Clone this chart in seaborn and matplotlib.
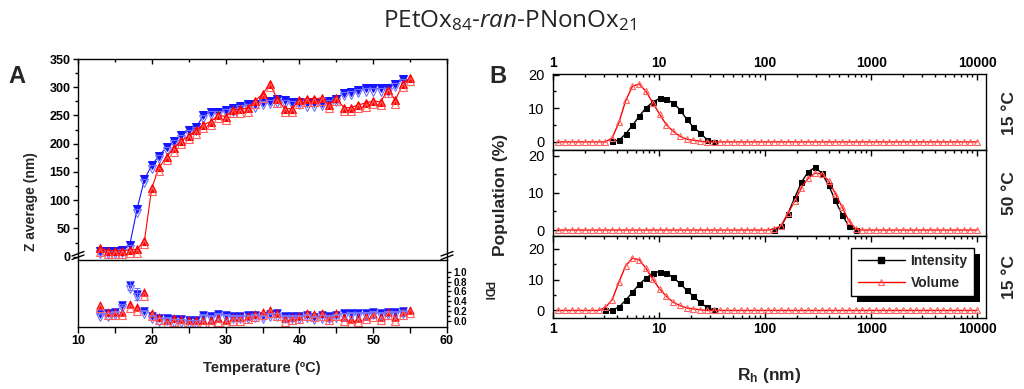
import numpy as np
import pandas as pd
import matplotlib
matplotlib.use('Agg')
import matplotlib.pyplot as plt
import matplotlib.transforms as mtransforms
from matplotlib.lines import Line2D
from matplotlib.patches import Rectangle
from matplotlib.ticker import MultipleLocator, LogLocator, NullFormatter, FixedLocator
import seaborn as sns

sns.set_style("ticks")
plt.rcParams['font.family'] = ['Liberation Sans', 'DejaVu Sans']
plt.rcParams['mathtext.fontset'] = 'custom'
plt.rcParams['mathtext.rm'] = 'Open Sans'
plt.rcParams['mathtext.it'] = 'Open Sans:italic'
plt.rcParams['mathtext.bf'] = 'Liberation Sans:bold'
plt.rcParams['axes.edgecolor'] = 'black'
plt.rcParams['axes.linewidth'] = 1.0
plt.rcParams['xtick.color'] = 'black'
plt.rcParams['ytick.color'] = 'black'

# ---------------- panel A data (Z average / PDI vs temperature) ----------------
temp_blue = list(range(13, 55))
temp_red = list(range(13, 56))

z_blue = [11, 11, 11, 12, 20, 84, 137, 162, 179, 194, 205, 215, 224, 229, 250,
          257, 257, 260, 263, 267, 270, 270, 274, 276, 279, 277, 274, 274, 272,
          272, 273, 276, 280, 290, 292, 296, 298, 298, 298, 298, 306, 314]
z_red = [15, 11, 11, 11, 12, 13, 28, 122, 158, 177, 192, 205, 214, 224, 234,
         239, 251, 248, 260, 261, 263, 276, 288, 306, 279, 262, 262, 277, 280,
         280, 281, 269, 281, 264, 264, 269, 272, 276, 274, 296, 277, 306, 317]

pdi_blue = [0.14, 0.15, 0.18, 0.32, 0.72, 0.55, 0.20, 0.10, 0.05, 0.06, 0.03,
            0.03, 0.01, 0.01, 0.12, 0.10, 0.14, 0.12, 0.10, 0.10, 0.11, 0.12,
            0.10, 0.14, 0.15, 0.10, 0.10, 0.10, 0.12, 0.08, 0.11, 0.10, 0.12,
            0.15, 0.16, 0.16, 0.16, 0.18, 0.16, 0.18, 0.18, 0.20]
pdi_blue_err = [0, 0, 0, 0.03, 0.10, 0.12, 0, 0, 0, 0, 0, 0, 0, 0, 0, 0, 0, 0,
                0, 0, 0, 0, 0, 0, 0, 0, 0, 0, 0, 0, 0, 0, 0, 0, 0, 0, 0, 0, 0,
                0, 0, 0]
pdi_red = [0.32, 0.18, 0.18, 0.18, 0.34, 0.27, 0.58, 0.16, 0.08, 0.01, 0.05,
           0.03, 0.01, 0.01, 0.01, 0.01, 0.05, 0.01, 0.07, 0.07, 0.10, 0.14,
           0.18, 0.22, 0.16, 0.05, 0.08, 0.10, 0.16, 0.14, 0.16, 0.08, 0.16,
           0.07, 0.03, 0.05, 0.10, 0.14, 0.08, 0.18, 0.07, 0.18, 0.22]
pdi_ticks = [0.0, 0.2, 0.4, 0.6, 0.8, 1.0]

# ---------------- panel B data (size distributions) ----------------
size_nm = [1.117, 1.294, 1.499, 1.736, 2.01, 2.328, 2.696, 3.122, 3.615,
           4.187, 4.849, 5.615, 6.503, 7.531, 8.721, 10.1, 11.7, 13.54,
           15.69, 18.17, 21.04, 24.36, 28.21, 32.67, 37.84, 43.82, 50.75,
           58.77, 68.06, 78.82, 91.28, 105.7, 122.4, 141.8, 164.2, 190.1,
           220.2, 255, 295.3, 342, 396.1, 458.7, 531.2, 615.1, 712.4,
           825, 955.4, 1106, 1281, 1484, 1718, 1990, 2305, 2669,
           3091, 3580, 4145, 4801, 5560, 6439, 7456, 8635, 10000]
N = None

vol_15_top = [0, 0, 0, 0, 0, 0, 0, 0, 1.2,
              5.8, 12.3, 16.5, 17.2, 15.0, 11.6, 8.3, 5.1, 3.2,
              1.7, 0.8, 0.5, 0.2, 0, 0, 0, 0, 0,
              0, 0, 0, 0, 0, 0, 0, 0, 0,
              0, 0, 0, 0, 0, 0, 0, 0, 0,
              0, 0, 0, 0, 0, 0, 0, 0, 0,
              0, 0, 0, 0, 0, 0, 0, 0, 0]
int_15_top = [N, N, N, N, N, N, N, N, 0.2,
              0.5, 2.4, 4.9, 7.6, 10.1, 11.8, 12.9, 12.6, 11.6,
              9.6, 6.8, 4.4, 2.7, 0.7, 0, N, N, N,
              N, N, N, N, N, N, N, N, N,
              N, N, N, N, N, N, N, N, N,
              N, N, N, N, N, N, N, N, N,
              N, N, N, N, N, N, N, N, N]

vol_50 = [0, 0, 0, 0, 0, 0, 0, 0, 0,
          0, 0, 0, 0, 0, 0, 0, 0, 0,
          0, 0, 0, 0, 0, 0, 0, 0, 0,
          0, 0, 0, 0, 0, 0.3, 1.2, 4.5, 7.8,
          11.4, 13.9, 15.3, 15.1, 13.3, 9.8, 6.2, 2.5, 0.3,
          0, 0, 0, 0, 0, 0, 0, 0, 0,
          0, 0, 0, 0, 0, 0, 0, 0, 0]
int_50 = [N, N, N, N, N, N, N, N, N,
          N, N, N, N, N, N, N, N, N,
          N, N, N, N, N, N, N, N, N,
          N, N, N, N, N, 0, 1.0, 4.4, 8.7,
          12.8, 15.7, 16.8, 15.3, 12.1, 8.0, 4.1, 1.1, 0,
          N, N, N, N, N, N, N, N, N,
          N, N, N, N, N, N, N, N, N]

vol_15_bot = [0, 0, 0, 0, 0, 0, 0, 1.0, 3.5,
              9.2, 14.5, 16.9, 16.4, 13.6, 10.1, 7.0, 4.6, 2.7,
              1.6, 0.8, 0.5, 0.2, 0, 0, 0, 0, 0,
              0, 0, 0, 0, 0, 0, 0, 0, 0,
              0, 0, 0, 0, 0, 0, 0, 0, 0,
              0, 0, 0, 0, 0, 0, 0, 0, 0,
              0, 0, 0, 0, 0, 0, 0, 0, 0]
int_15_bot = [N, N, N, N, N, N, N, 0, 0.1,
              1.1, 3.3, 5.9, 8.5, 10.4, 12.1, 12.6, 12.1, 10.7,
              8.8, 6.6, 4.6, 2.6, 1.0, 0.2, N, N, N,
              N, N, N, N, N, N, N, N, N,
              N, N, N, N, N, N, N, N, N,
              N, N, N, N, N, N, N, N, N,
              N, N, N, N, N, N, N, N, N]

panel_temps = ["15 °C", "50 °C", "15 °C"]
size_ticks = [1, 10, 100, 1000, 10000]

BLUE = "#1414ff"
BLUE_L = "#7070ff"
RED = "#ff0000"
RED_L = "#ff6060"

fig = plt.figure(figsize=(10.24, 3.89), dpi=100)


def fx(px):
    return px / 1024


def fy(py):
    return 1 - py / 389


# ---------------- panel A ----------------
ax_u = fig.add_axes([fx(78), fy(259), (447 - 78) / 1024, (259 - 59) / 389])
ax_l = fig.add_axes([fx(78), fy(327), (447 - 78) / 1024, (327 - 260) / 389])

shift = mtransforms.offset_copy(ax_u.transData, fig=fig, y=-3.5, units='dots')
sns.lineplot(x=temp_blue, y=z_blue, ax=ax_u, color=BLUE, lw=0.8, marker='v',
             markersize=5.5, markeredgecolor=BLUE, estimator=None, sort=False)
ax_u.plot(temp_blue, z_blue, ls='none', marker='v', ms=5.5, mfc='none',
          mec=BLUE_L, mew=0.8, transform=shift)
sns.lineplot(x=temp_red, y=z_red, ax=ax_u, color=RED, lw=0.8, marker='^',
             markersize=5.5, markeredgecolor=RED, estimator=None, sort=False)
ax_u.plot(temp_red, z_red, ls='none', marker='^', ms=5.5, mfc='none',
          mec=RED_L, mew=0.8, transform=shift)

ax_u.set_xlim(10, 60)
ax_u.set_ylim(-4, 350)
ax_u.spines['bottom'].set_visible(False)
ax_u.xaxis.set_major_locator(MultipleLocator(10))
ax_u.xaxis.set_minor_locator(MultipleLocator(5))
ax_u.yaxis.set_major_locator(MultipleLocator(50))
ax_u.yaxis.set_minor_locator(MultipleLocator(25))
ax_u.tick_params(axis='x', which='both', bottom=False, top=True,
                 labelbottom=False, direction='in')
ax_u.tick_params(axis='x', which='major', length=3.5, width=1)
ax_u.tick_params(axis='x', which='minor', length=2.5, width=1)
ax_u.tick_params(axis='y', which='both', left=True, right=False,
                 direction='out', labelsize=9, pad=2)
ax_u.tick_params(axis='y', which='major', length=3.5, width=1)
ax_u.tick_params(axis='y', which='minor', length=2, width=1)
for t in ax_u.get_yticklabels():
    t.set_fontweight('bold')
ax_u.set_xlabel('')
ax_u.set_ylabel('')

shift_l = mtransforms.offset_copy(ax_l.transData, fig=fig, y=-3.5, units='dots')
ax_l.errorbar(temp_blue, pdi_blue, yerr=pdi_blue_err, fmt='none',
              ecolor=BLUE_L, elinewidth=0.8, capsize=2.5, capthick=0.8)
sns.scatterplot(x=temp_blue, y=pdi_blue, ax=ax_l, color=BLUE, marker='v',
                s=30, edgecolor=BLUE, linewidth=0.5)
ax_l.plot(temp_blue, pdi_blue, ls='none', marker='v', ms=5.5, mfc='none',
          mec=BLUE_L, mew=0.8, transform=shift_l)
sns.scatterplot(x=temp_red, y=pdi_red, ax=ax_l, color=RED, marker='^',
                s=30, edgecolor=RED, linewidth=0.5)
ax_l.plot(temp_red, pdi_red, ls='none', marker='^', ms=5.5, mfc='none',
          mec=RED_L, mew=0.8, transform=shift_l)

ax_l.set_xlim(10, 60)
ax_l.set_ylim(-0.13, 1.24)
ax_l.xaxis.set_major_locator(MultipleLocator(10))
ax_l.xaxis.set_minor_locator(MultipleLocator(5))
ax_l.yaxis.tick_right()
ax_l.yaxis.set_major_locator(FixedLocator(pdi_ticks))
ax_l.yaxis.set_minor_locator(FixedLocator([0.1, 0.3, 0.5, 0.7, 0.9]))
ax_l.yaxis.set_major_formatter(plt.FormatStrFormatter('%.1f'))
ax_l.tick_params(axis='x', which='both', direction='out', top=False,
                 labelsize=9, pad=2, width=1)
ax_l.tick_params(axis='x', which='major', length=4)
ax_l.tick_params(axis='x', which='minor', length=4)
ax_l.tick_params(axis='y', which='both', direction='out', left=False,
                 right=True, labelsize=7, pad=1.5, width=1)
ax_l.tick_params(axis='y', which='major', length=3)
ax_l.tick_params(axis='y', which='minor', length=2)
for t in ax_l.get_xticklabels() + ax_l.get_yticklabels():
    t.set_fontweight('bold')
ax_l.set_xlabel('')
ax_l.set_ylabel('')

# axis break marks
for bx in (78, 447):
    for dy in (0, 3.5):
        fig.add_artist(Line2D([fx(bx - 6), fx(bx + 6)],
                              [fy(259.5 - dy), fy(255 - dy)],
                              color='black', lw=1))

fig.text(fx(31), fy(202), 'Z average (nm)', rotation=90, ha='center',
         va='center', fontsize=10, fontweight='bold')
fig.text(fx(262), fy(372), 'Temperature (ºC)', ha='center', va='baseline',
         fontsize=10.5, fontweight='bold')
fig.text(fx(487), fy(291), 'PDI', rotation=270, ha='center', va='center',
         fontsize=8.5, fontweight='bold')
fig.text(fx(8), fy(83), 'A', fontsize=17, fontweight='bold', va='baseline')

# ---------------- panel B ----------------
b_rows = [
    (fy(150), 76, (-2.4, 20.15), vol_15_top, int_15_top),
    (fy(236), 86, (-1.6, 21.5), vol_50, int_50),
    (fy(318), 82, (-2.45, 24.1), vol_15_bot, int_15_bot),
]
b_axes = []
for i, (bottom, h, ylim, vol, inten) in enumerate(b_rows):
    ax = fig.add_axes([fx(553), bottom, 433 / 1024, h / 389])
    ax.set_xscale('log')
    df = pd.DataFrame({'size': size_nm, 'Volume': vol,
                       'Intensity': pd.array(inten, dtype='Float64')})
    df['Intensity'] = df['Intensity'].astype(float)
    d_int = df.dropna(subset=['Intensity'])
    sns.lineplot(data=d_int, x='size', y='Intensity', ax=ax, color='black',
                 lw=1, marker='s', markersize=3.6, markeredgecolor='black',
                 estimator=None, sort=False, legend=False)
    sns.lineplot(data=df, x='size', y='Volume', ax=ax, color=RED, lw=1,
                 marker='^', markersize=4.3, markerfacecolor='none',
                 markeredgecolor=RED_L, markeredgewidth=0.8,
                 estimator=None, sort=False, legend=False)
    ax.set_xlim(1, 12100)
    ax.set_ylim(*ylim)
    ax.set_xticks(size_ticks, labels=[str(v) for v in size_ticks])
    ax.xaxis.set_minor_locator(LogLocator(base=10, subs=range(2, 10)))
    ax.xaxis.set_minor_formatter(NullFormatter())
    ax.set_yticks([0, 10, 20])
    ax.yaxis.set_minor_locator(MultipleLocator(5))
    ax.tick_params(axis='x', which='both', direction='in', top=True,
                   bottom=(i == 2), labeltop=(i == 0), labelbottom=(i == 2),
                   labelsize=10, pad=3, width=1)
    ax.tick_params(axis='x', which='major', length=4)
    ax.tick_params(axis='x', which='minor', length=2.5)
    ax.tick_params(axis='y', which='both', direction='in', right=False,
                   labelsize=10.5, pad=6, width=1)
    ax.tick_params(axis='y', which='major', length=4)
    ax.tick_params(axis='y', which='minor', length=2.5)
    for t in ax.get_xticklabels():
        t.set_fontweight('bold')
    ax.set_xlabel('')
    ax.set_ylabel('')
    b_axes.append(ax)

label_y = [113, 193, 277]
for txt, py in zip(panel_temps, label_y):
    fig.text(fx(1009), fy(py), txt, rotation=90, ha='center', va='center',
             fontsize=12.5, fontweight='bold')

handles = [
    Line2D([], [], color='black', lw=1, marker='s', ms=4, mec='black'),
    Line2D([], [], color=RED, lw=1, marker='^', ms=4.5, mfc='none',
           mec=RED_L, mew=0.8),
]
ax_b = b_axes[2]
leg = ax_b.legend(handles, ['Intensity', 'Volume'], loc='upper right',
                  bbox_to_anchor=(0.972, 0.855), frameon=True, fancybox=False,
                  framealpha=1, edgecolor='black', handlelength=3.4,
                  handletextpad=0.4, borderpad=0.45, labelspacing=0.55,
                  borderaxespad=0, prop={'weight': 'bold', 'size': 10})
leg.get_frame().set_linewidth(1)
leg.set_zorder(6)
fig.canvas.draw()
bb = leg.get_window_extent()
ax_b.add_patch(Rectangle((bb.x0 + 6, bb.y0 - 6), bb.width, bb.height,
                         transform=mtransforms.IdentityTransform(),
                         facecolor='black', edgecolor='none', zorder=5.5,
                         clip_on=False))

fig.text(fx(500), fy(195), 'Population (%)', rotation=90, ha='center',
         va='center', fontsize=12.5, fontweight='bold')
fig.text(fx(769), fy(380), r'$\mathbf{R_h}$ (nm)', ha='center', va='baseline',
         fontsize=12.5, fontweight='bold')
fig.text(fx(489), fy(83), 'B', fontsize=17, fontweight='bold', va='baseline')

fig.text(fx(510), fy(27), r'PEtOx$_{84}$-$\it{ran}$-PNonOx$_{21}$',
         ha='center', va='baseline', fontsize=17.5, family='Open Sans')

fig.savefig('out.png', dpi=100)
